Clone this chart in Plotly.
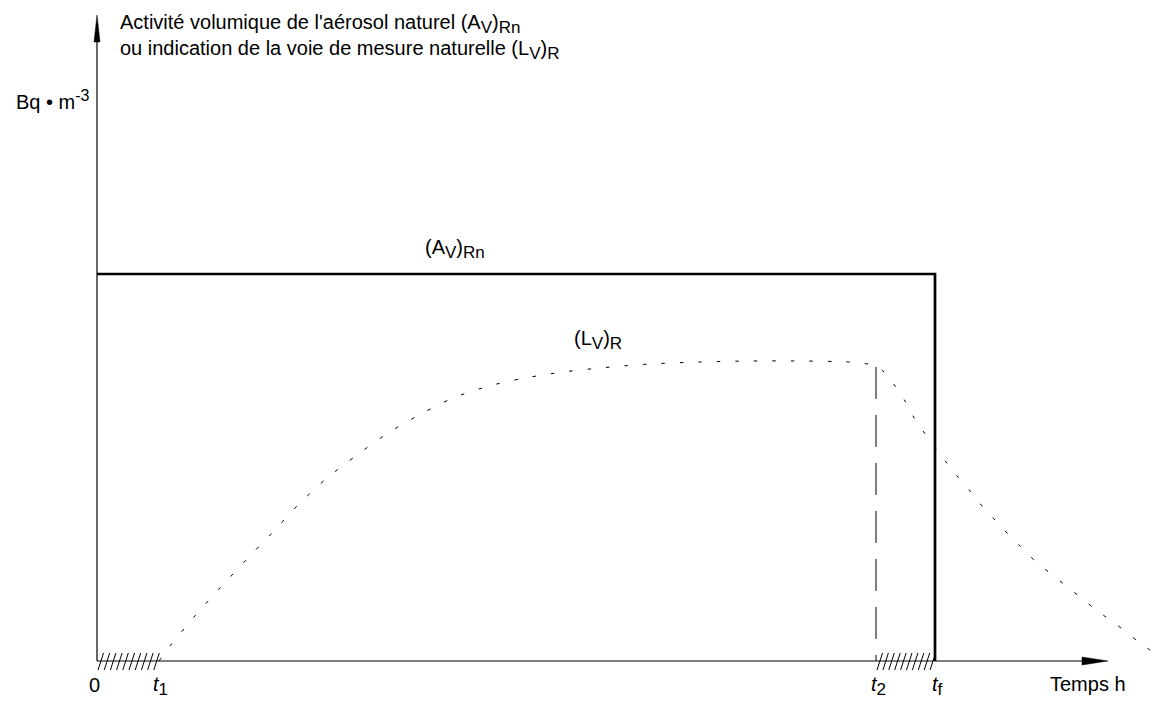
import plotly.graph_objects as go

# ---- data (units: origin of the drawing axes at 0,0) ----
t_labels = ["0", "t1", "t2", "tf"]
t1 = 62
t2 = 779
tf = 838
A_level = 387

L_x = [62, 73, 97, 123, 150, 176, 202, 230, 260, 291, 322, 356, 392, 428, 466,
       503, 553, 603, 653, 703, 753, 771, 779, 787, 798, 808, 816, 826, 838,
       849, 861, 873, 885, 898, 911, 924, 938, 953, 968, 983, 998, 1013, 1028,
       1043, 1059]
L_y = [0, 15, 44, 73, 102, 129, 157, 183, 206, 228, 246, 263, 275, 283, 289,
       293, 297, 299, 300, 300, 299, 297, 295, 289, 275, 260, 245, 230, 214,
       199, 184, 170, 155, 141, 127, 114, 100, 88, 76, 64, 52, 41, 30, 18, 7]

x_axis_end = 1011
y_axis_end = 646

FONT = "Liberation Sans, Arial, sans-serif"
FS = 20
SUB = 17
BLACK = "#000000"

fig = go.Figure()

# A_V curve (rectangle)
fig.add_trace(go.Scatter(x=[0, tf, tf], y=[A_level, A_level, 0], mode="lines",
                         line=dict(color=BLACK, width=2.7), hoverinfo="skip"))

# L_V curve dotted
fig.add_trace(go.Scatter(x=L_x, y=L_y, mode="lines",
                         line=dict(color=BLACK, width=1, dash="3.5px,15px", shape="spline", smoothing=0.8),
                         hoverinfo="skip"))

# dashed line at t2 (drawn from the curve down to the axis)
t2_level = L_y[L_x.index(t2)]
fig.add_trace(go.Scatter(x=[t2, t2], y=[t2_level - 1, 0], mode="lines",
                         line=dict(color=BLACK, width=1, dash="32px,16px"), hoverinfo="skip"))

# axes
fig.add_trace(go.Scatter(x=[0, x_axis_end - 26], y=[0, 0], mode="lines",
                         line=dict(color=BLACK, width=1.2), hoverinfo="skip"))
fig.add_trace(go.Scatter(x=[0, 0], y=[0, y_axis_end - 27], mode="lines",
                         line=dict(color=BLACK, width=1.2), hoverinfo="skip"))
# arrowheads
fig.add_trace(go.Scatter(x=[x_axis_end - 26, x_axis_end, x_axis_end - 26, x_axis_end - 26],
                         y=[-4, 0, 4, -4], mode="lines", fill="toself", fillcolor=BLACK,
                         line=dict(color=BLACK, width=0.5), hoverinfo="skip"))
fig.add_trace(go.Scatter(x=[-3, 0, 3, -3],
                         y=[y_axis_end - 27, y_axis_end, y_axis_end - 27, y_axis_end - 27],
                         mode="lines", fill="toself", fillcolor=BLACK,
                         line=dict(color=BLACK, width=0.5), hoverinfo="skip"))

# hatching (decorative)
def hatch(x0, x1, n):
    hx, hy = [], []
    step = (x1 - x0) / n
    for i in range(n):
        xb = x0 + 1 + i * step
        hx += [xb, xb + 5.5, None]
        hy += [-9, 8, None]
    return hx, hy

for a, b in [(0, t1), (t2, tf)]:
    hx, hy = hatch(a, b, 10)
    fig.add_trace(go.Scatter(x=hx, y=hy, mode="lines",
                             line=dict(color=BLACK, width=1), hoverinfo="skip"))

ann = []
def text(x, y, s, xa="center", ya="middle", size=FS):
    ann.append(dict(x=x, y=y, text=s, showarrow=False, xanchor=xa, yanchor=ya,
                    font=dict(family=FONT, size=size, color=BLACK)))

def sub(s, px=SUB):
    return f"<sub><span style='font-size:{px}px'>{s}</span></sub>"

text(21, 637, "Activité volumique de l'aérosol naturel (A" + sub("V") + ")" + sub("Rn"), xa="left")
text(21, 611, "ou indication de la voie de mesure naturelle (L" + sub("V") + ")" + sub("R"), xa="left")
text(-5, 561, "Bq • m<sup><span style='font-size:16px'>-3</span></sup>", xa="right")
text(358, 412, "(A" + sub("V") + ")" + sub("Rn"))
text(501, 321, "(L" + sub("V") + ")" + sub("R"))
text(-3, -24, "0")
text(t1 + 1.5, -25, "<i>t</i>" + sub("1"))
text(t2 + 2, -25, "<i>t</i>" + sub("2"))
text(tf + 2.5, -25, "<i>t</i>" + sub("f"))
text(991, -23, "Temps h")

fig.update_layout(
    width=1162, height=702,
    margin=dict(l=0, r=0, t=0, b=0),
    paper_bgcolor="white", plot_bgcolor="white",
    showlegend=False,
    xaxis=dict(range=[-97, 1065], visible=False, fixedrange=True),
    yaxis=dict(range=[-41, 661], visible=False, fixedrange=True),
    annotations=ann,
)

fig.write_html("out.html")
